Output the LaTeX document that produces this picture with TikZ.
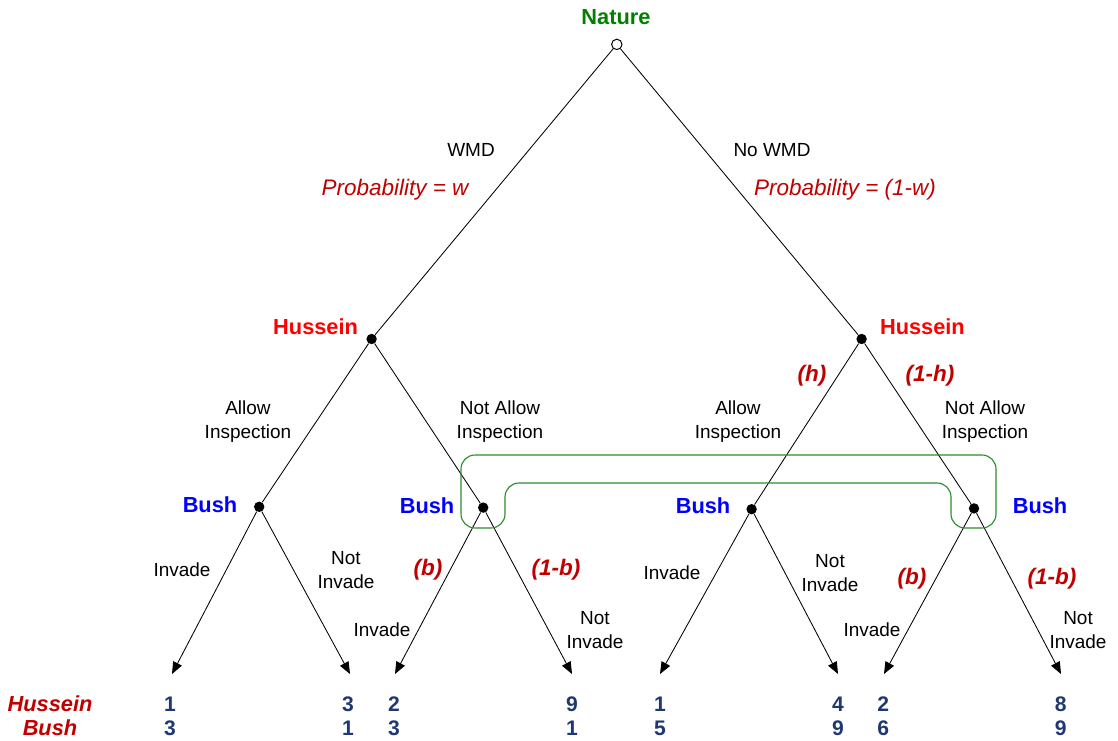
\documentclass[tikz,border=0pt]{standalone}
\usepackage{fontspec}
\setmainfont{Liberation Sans}
\setsansfont{Liberation Sans}
\usetikzlibrary{arrows.meta,positioning}
\definecolor{ink}{HTML}{000000}
\definecolor{natureGreen}{HTML}{008000}
\definecolor{infoGreen}{HTML}{2E8B2E}
\definecolor{husRed}{HTML}{FF0000}
\definecolor{bushBlue}{HTML}{0000FF}
\definecolor{probRed}{HTML}{C00000}
\definecolor{payNavy}{HTML}{1F3872}

\begin{document}
\begin{tikzpicture}[
    font=\sffamily,
    decision/.style={
        circle,
        fill=ink,
        inner sep=0pt,
        minimum size=0.26cm
    },
    chance/.style={
        circle,
        draw=ink,
        fill=white,
        line width=0.7pt,
        inner sep=0pt,
        minimum size=0.26cm
    },
    branch/.style={draw=ink, line width=0.6pt},
    terminal/.style={branch, -{Triangle[length=3mm,width=2.4mm]}},
    player/.style={font=\sffamily\bfseries\fontsize{15.5}{17}\selectfont},
    move/.style={font=\sffamily\fontsize{13.5}{17}\selectfont, align=center, text=ink},
    prob/.style={font=\sffamily\itshape\fontsize{16}{18}\selectfont, text=probRed},
    belief/.style={font=\sffamily\bfseries\itshape\fontsize{16}{18}\selectfont, text=probRed},
    payoff/.style={font=\sffamily\bfseries\fontsize{15}{17}\selectfont, text=payNavy},
    rowlabel/.style={font=\sffamily\bfseries\itshape\fontsize{15.5}{17}\selectfont, text=probRed},
    infoset/.style={draw=infoGreen, line width=0.8pt, rounded corners=0.35cm}
]
\useasboundingbox (0,0) rectangle (27.95,18.5);

% Decision nodes.
\node[chance] (nature) at (15.42,17.39) {};
\node[decision] (hussL) at (9.29,10.025) {};
\node[decision] (hussR) at (21.54,10.025) {};
\node[decision] (bushA) at (6.48,5.83) {};
\node[decision] (bushB) at (12.08,5.81) {};
\node[decision] (bushC) at (18.79,5.77) {};
\node[decision] (bushD) at (24.35,5.79) {};

% Terminal points.
\coordinate (leafA) at (4.30,1.65);
\coordinate (leafB) at (8.75,1.65);
\coordinate (leafC) at (9.875,1.65);
\coordinate (leafD) at (14.30,1.65);
\coordinate (leafE) at (16.50,1.65);
\coordinate (leafF) at (20.95,1.65);
\coordinate (leafG) at (22.10,1.65);
\coordinate (leafH) at (26.525,1.65);

% Player names.
\node[player, text=natureGreen] (natureLbl) at (15.40,18.08) {Nature};
\node[player, text=husRed] (hussLLbl) at (7.89,10.325) {Hussein};
\node[player, text=husRed] (hussRLbl) at (23.06,10.325) {Hussein};
\node[player, text=bushBlue] (bushALbl) at (5.25,5.875) {Bush};
\node[player, text=bushBlue] (bushBLbl) at (10.675,5.85) {Bush};
\node[player, text=bushBlue] (bushCLbl) at (17.575,5.85) {Bush};
\node[player, text=bushBlue] (bushDLbl) at (26.0,5.85) {Bush};

% Branches.
\draw[branch] (nature) -- (hussL);
\draw[branch] (nature) -- (hussR);
\draw[branch] (hussL) -- (bushA);
\draw[branch] (hussL) -- (bushB);
\draw[branch] (hussR) -- (bushC);
\draw[branch] (hussR) -- (bushD);
\draw[terminal] (bushA) -- (leafA);
\draw[terminal] (bushA) -- (leafB);
\draw[terminal] (bushB) -- (leafC);
\draw[terminal] (bushB) -- (leafD);
\draw[terminal] (bushC) -- (leafE);
\draw[terminal] (bushC) -- (leafF);
\draw[terminal] (bushD) -- (leafG);
\draw[terminal] (bushD) -- (leafH);

% Information set.
\draw[infoset] (11.525,5.30) -- (11.525,7.125) -- (24.90,7.125) -- (24.90,5.30)
    -- (23.775,5.30) -- (23.775,6.425) -- (12.625,6.425) -- (12.625,5.30) -- cycle;

% Move labels.
\node[move] (wmd) at (11.775,14.75) {WMD};
\node[prob] (probW) at (9.875,13.75) {Probability = w};
\node[move] (noWmd) at (19.30,14.75) {No WMD};
\node[prob] (probNoW) at (21.125,13.75) {Probability = (1-w)};

\node[move] (allowL) at (6.20,7.95) {Allow\\Inspection};
\node[move] (notAllowL) at (12.50,7.95) {Not Allow\\Inspection};
\node[move] (allowR) at (18.45,7.95) {Allow\\Inspection};
\node[move] (notAllowR) at (24.625,7.95) {Not Allow\\Inspection};
\node[belief] (hProb) at (20.30,9.10) {(h)};
\node[belief] (hComp) at (23.25,9.10) {(1-h)};

\node[move] (invA) at (4.55,4.25) {Invade};
\node[move] (notInvA) at (8.65,4.25) {Not\\Invade};
\node[belief] (bProbB) at (10.70,4.25) {(b)};
\node[belief] (bCompB) at (13.90,4.25) {(1-b)};
\node[move] (invB) at (9.55,2.75) {Invade};
\node[move] (notInvB) at (14.875,2.75) {Not\\Invade};
\node[move] (invC) at (16.80,4.175) {Invade};
\node[move] (notInvC) at (20.75,4.175) {Not\\Invade};
\node[belief] (bProbD) at (22.80,4.025) {(b)};
\node[belief] (bCompD) at (26.30,4.025) {(1-b)};
\node[move] (invD) at (21.80,2.75) {Invade};
\node[move] (notInvD) at (26.95,2.75) {Not\\Invade};

% Payoffs.
\node[rowlabel] (rowHuss) at (1.25,0.90) {Hussein};
\node[rowlabel] (rowBush) at (1.25,0.30) {Bush};

\node[payoff] (payHA) at (4.25,0.90) {1};
\node[payoff] (payBA) at (4.25,0.30) {3};
\node[payoff] (payHB) at (8.70,0.90) {3};
\node[payoff] (payBB) at (8.70,0.30) {1};
\node[payoff] (payHC) at (9.85,0.90) {2};
\node[payoff] (payBC) at (9.85,0.30) {3};
\node[payoff] (payHD) at (14.30,0.90) {9};
\node[payoff] (payBD) at (14.30,0.30) {1};
\node[payoff] (payHE) at (16.50,0.90) {1};
\node[payoff] (payBE) at (16.50,0.30) {5};
\node[payoff] (payHF) at (20.95,0.90) {4};
\node[payoff] (payBF) at (20.95,0.30) {9};
\node[payoff] (payHG) at (22.08,0.90) {2};
\node[payoff] (payBG) at (22.08,0.30) {6};
\node[payoff] (payHH) at (26.52,0.90) {8};
\node[payoff] (payBH) at (26.52,0.30) {9};

\end{tikzpicture}
\end{document}
